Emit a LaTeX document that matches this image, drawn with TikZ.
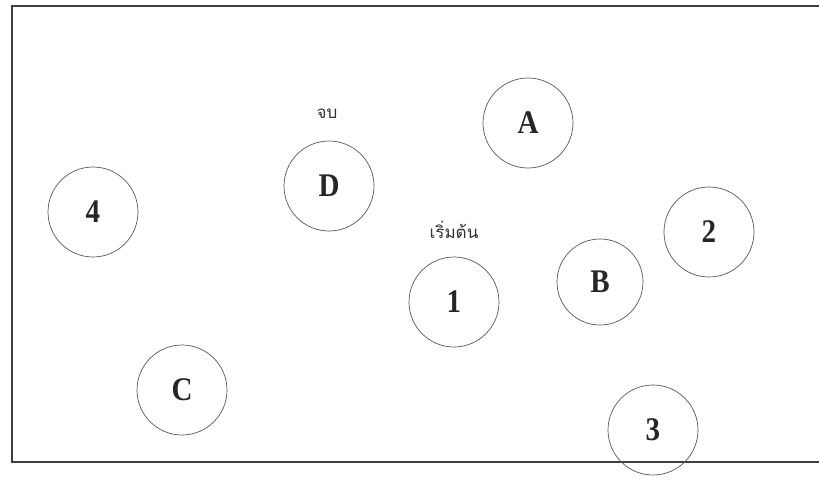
\documentclass[tikz,border=0pt]{standalone}
\usepackage{fontspec}
\setmainfont{Liberation Serif}
\newfontfamily\condbold[FakeStretch=0.88,BoldFont={Liberation Serif Bold}]{Liberation Serif}
\newfontfamily\thaifont[Script=Thai]{Loma}
\begin{document}
\begin{tikzpicture}[x=1pt,y=-1pt,
  st/.style={circle,draw=black!65,line width=0.7pt,minimum size=90pt,inner sep=0pt,
    font=\condbold\fontsize{33}{36}\selectfont\bfseries,text=black!85},
  lbl/.style={font=\thaifont\fontsize{17}{19}\selectfont,text=black!80,inner sep=0pt}]
\useasboundingbox (0,0) rectangle (819,488);
\fill[white] (0,0) rectangle (819,488);
\draw[black!75,line width=1.2pt] (819,6) -- (12,6) -- (12,462) -- (819,462);
\node[st] (A) at (528,123) {A};
\node[st] (D) at (329,186) {D};
\node[st] (n4) at (93,212) {4};
\node[st] (n1) at (454,302) {1};
\node[st,minimum size=86pt] (B) at (600,282) {B};
\node[st] (n2) at (709,232) {2};
\node[st] (C) at (182,390) {C};
\node[st] (n3) at (653,430) {3};
\node[lbl] (end) at (327,114) {จบ};
\node[lbl] (start) at (454,230) {เริ่มต้น};
\end{tikzpicture}
\end{document}
